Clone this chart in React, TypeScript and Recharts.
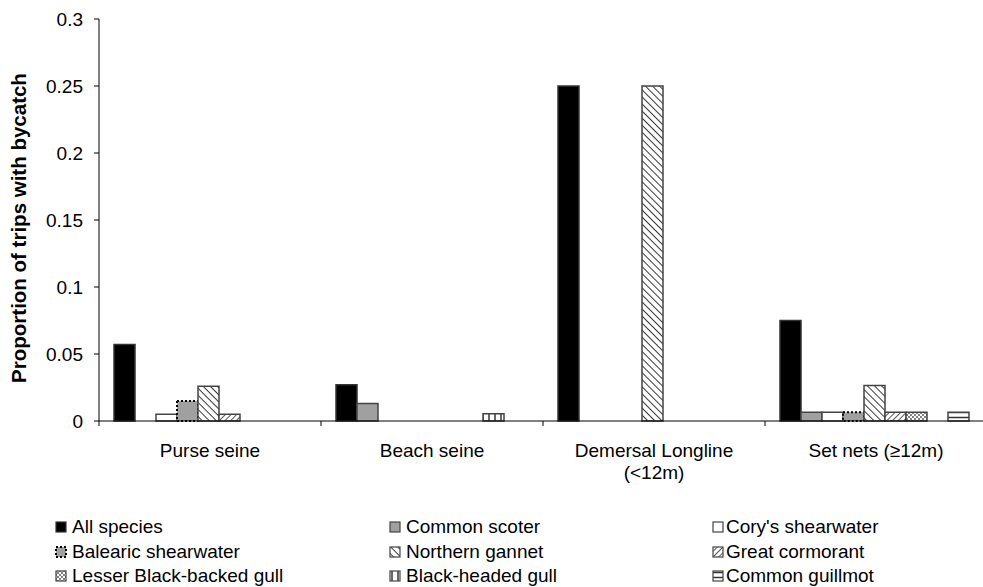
import { BarChart, Bar, XAxis, YAxis } from "recharts";

const FONT = "'Liberation Sans', Arial, Helvetica, sans-serif";

// fishing methods on the x axis
const categories = ["Purse seine", "Beach seine", "Demersal Longline (<12m)", "Set nets (≥12m)"];

// proportion of trips with bycatch, one value per category
const allSpecies = [0.057, 0.027, 0.25, 0.075];
const commonScoter = [0, 0.013, 0, 0.0065];
const corysShearwater = [0.005, 0, 0, 0.0065];
const balearicShearwater = [0.015, 0, 0, 0.0065];
const northernGannet = [0.026, 0, 0.25, 0.0265];
const greatCormorant = [0.005, 0, 0, 0.0065];
const lesserBlackBackedGull = [0, 0, 0, 0.0065];
const blackHeadedGull = [0, 0.0055, 0, 0];
const commonGuillmot = [0, 0, 0, 0.0065];

const yTicks = [0, 0.05, 0.1, 0.15, 0.2, 0.25, 0.3];
const yLabel = "Proportion of trips with bycatch";

type Series = {
  key: string;
  name: string;
  values: number[];
  fill: string;
  stroke: string;
  dash?: string;
  strokeWidth?: number;
};

const series: Series[] = [
  { key: "allSpecies", name: "All species", values: allSpecies, fill: "#000000", stroke: "#333333" },
  { key: "commonScoter", name: "Common scoter", values: commonScoter, fill: "#a0a0a0", stroke: "#444444" },
  { key: "corys", name: "Cory's shearwater", values: corysShearwater, fill: "#ffffff", stroke: "#444444" },
  {
    key: "balearic",
    name: "Balearic shearwater",
    values: balearicShearwater,
    fill: "#a0a0a0",
    stroke: "#000000",
    dash: "2 2",
    strokeWidth: 2,
  },
  { key: "gannet", name: "Northern gannet", values: northernGannet, fill: "url(#pGannet)", stroke: "#444444" },
  { key: "cormorant", name: "Great cormorant", values: greatCormorant, fill: "url(#pCormorant)", stroke: "#444444" },
  { key: "lbbGull", name: "Lesser Black-backed gull", values: lesserBlackBackedGull, fill: "url(#pDots)", stroke: "#444444" },
  { key: "bhGull", name: "Black-headed gull", values: blackHeadedGull, fill: "url(#pVert)", stroke: "#444444" },
  { key: "guillmot", name: "Common guillmot", values: commonGuillmot, fill: "url(#pHoriz)", stroke: "#444444" },
];

const data = categories.map((name, i) => {
  const row: Record<string, any> = { name };
  series.forEach((s) => {
    row[s.key] = s.values[i];
  });
  return row;
});

const CHART_W = 983;
const MARGIN = { top: 19, right: -4, left: 0, bottom: 30 };
const Y_AXIS_W = 99;

// break long category names onto two lines
function wrap(label: string, max = 18) {
  const words = label.split(" ");
  const lines: string[] = [];
  let cur = "";
  words.forEach((w) => {
    if (cur && (cur + " " + w).length > max) {
      lines.push(cur);
      cur = w;
    } else {
      cur = cur ? cur + " " + w : w;
    }
  });
  if (cur) lines.push(cur);
  return lines;
}

// category label plus the small tick mark at the left edge of each band
function CategoryTick(props: any) {
  const { x, y, payload, index, visibleTicksCount } = props;
  const count = visibleTicksCount || categories.length;
  const axisW =
    Number.isFinite(props.width) && props.width > 0
      ? props.width
      : CHART_W - MARGIN.left - MARGIN.right - Y_AXIS_W;
  const band = axisW / count;
  const lines = wrap(String(payload.value));
  const left = x - band / 2;
  return (
    <g>
      <line x1={left} y1={y} x2={left} y2={y + 5} stroke="#000" />
      {index === count - 1 && <line x1={x + band / 2} y1={y} x2={x + band / 2} y2={y + 5} stroke="#000" />}
      <text x={x} y={y} textAnchor="middle" fill="#000" fontSize={19} fontFamily={FONT}>
        {lines.map((l, i) => (
          <tspan key={i} x={x} dy={i === 0 ? 36 : 22}>
            {l}
          </tspan>
        ))}
      </text>
    </g>
  );
}

function YLabel(props: any) {
  const vb = props.viewBox || { x: 0, y: 19, width: 99, height: 402 };
  const cx = vb.x + 26;
  const cy = vb.y + vb.height / 2 + 8;
  return (
    <text
      x={cx}
      y={cy}
      transform={`rotate(-90 ${cx} ${cy})`}
      textAnchor="middle"
      fontWeight="bold"
      fontSize={20.5}
      fontFamily={FONT}
      fill="#000"
    >
      {yLabel}
    </text>
  );
}

function Patterns() {
  return (
    <defs>
      <pattern id="pGannet" width="5" height="5" patternUnits="userSpaceOnUse" patternTransform="rotate(-45)">
        <rect width="5" height="5" fill="#fff" />
        <line x1="0" y1="0" x2="0" y2="5" stroke="#222" strokeWidth="1.8" />
      </pattern>
      <pattern id="pCormorant" width="4" height="4" patternUnits="userSpaceOnUse" patternTransform="rotate(45)">
        <rect width="4" height="4" fill="#fff" />
        <line x1="0" y1="0" x2="0" y2="4" stroke="#222" strokeWidth="1.5" />
      </pattern>
      <pattern id="pDots" width="4" height="4" patternUnits="userSpaceOnUse">
        <rect width="4" height="4" fill="#fff" />
        <circle cx="1" cy="1" r="0.9" fill="#444" />
        <circle cx="3" cy="3" r="0.9" fill="#444" />
      </pattern>
      <pattern id="pVert" width="6" height="6" patternUnits="userSpaceOnUse">
        <rect width="6" height="6" fill="#fff" />
        <line x1="3" y1="0" x2="3" y2="6" stroke="#333" strokeWidth="1.5" />
      </pattern>
      <pattern id="pHoriz" width="5" height="5" patternUnits="userSpaceOnUse">
        <rect width="5" height="5" fill="#fff" />
        <line x1="0" y1="2.5" x2="5" y2="2.5" stroke="#333" strokeWidth="1.5" />
      </pattern>
    </defs>
  );
}

const legendMarkerX = [56, 390, 713];
const legendTextX = [72, 406, 726];
const legendRowY = [527, 552, 576];

export default function App() {
  return (
    <div style={{ position: "absolute", left: 0, top: 0, width: 983, height: 587, background: "#fff" }}>
      <BarChart
        width={CHART_W}
        height={500}
        data={data}
        margin={MARGIN}
        barCategoryGap={15}
        barGap={0}
      >
        <Patterns />
        <XAxis
          dataKey="name"
          height={49}
          axisLine={{ stroke: "#000" }}
          tickLine={false}
          tickSize={0}
          tickMargin={0}
          interval={0}
          tick={<CategoryTick />}
        />
        <YAxis
          width={Y_AXIS_W}
          domain={[0, 0.3]}
          ticks={yTicks}
          axisLine={{ stroke: "#000" }}
          tickLine={{ stroke: "#000" }}
          tickSize={5}
          tickMargin={11}
          tick={{ fill: "#000", fontSize: 19, fontFamily: FONT }}
          label={<YLabel />}
        />
        {series.map((s) => (
          <Bar
            key={s.key}
            dataKey={s.key}
            name={s.name}
            fill={s.fill}
            stroke={s.stroke}
            strokeWidth={s.strokeWidth ?? 1.5}
            strokeDasharray={s.dash}
            isAnimationActive={false}
          />
        ))}
      </BarChart>

      {series.map((s, i) => {
        const col = i % 3;
        const row = Math.floor(i / 3);
        const cy = legendRowY[row];
        return (
          <div key={s.key}>
            <svg
              width={12}
              height={12}
              style={{ position: "absolute", left: legendMarkerX[col] - 1, top: cy - 6 }}
            >
              <rect
                x={1}
                y={1}
                width={10}
                height={10}
                fill={s.fill}
                stroke={s.stroke}
                strokeWidth={s.strokeWidth ?? 1.2}
                strokeDasharray={s.dash}
              />
            </svg>
            <div
              style={{
                position: "absolute",
                left: legendTextX[col],
                top: cy - 12,
                height: 24,
                lineHeight: "24px",
                fontSize: 19,
                fontFamily: FONT,
                color: "#000",
                whiteSpace: "nowrap",
              }}
            >
              {s.name}
            </div>
          </div>
        );
      })}
    </div>
  );
}
